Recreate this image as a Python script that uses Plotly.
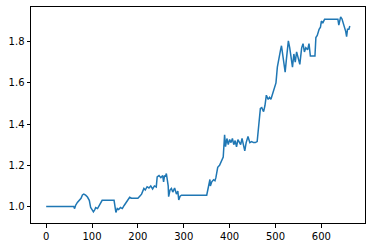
import plotly.graph_objects as go

# vertices of the line (x index, value)
x_pts = [0, 60, 62, 64, 68, 72, 76, 79, 82, 86, 90, 94, 97, 100, 103, 106, 108, 112, 117, 120, 122,
         148, 150, 152, 155, 158, 162, 166, 170, 174, 178, 182, 186, 200, 204, 208, 213, 216, 220,
         224, 228, 232, 236, 240, 242, 246, 250, 254, 256, 258, 260, 262, 264, 266, 267, 270, 273,
         276, 280, 284, 287, 289, 292, 295, 350, 353, 357, 358, 361, 365, 368, 370, 374, 378, 382,
         386, 389, 391, 394, 397, 400, 403, 406, 409, 412, 415, 418, 421, 424, 427, 430, 433, 436,
         440, 444, 448, 452, 456, 460, 464, 467, 470, 474, 477, 480, 484, 487, 490, 494, 498, 501,
         504, 507, 509, 511, 513, 515, 518, 521, 524, 528, 531, 534, 537, 540, 543, 546, 550, 553,
         557, 560, 563, 566, 570, 573, 576, 580, 586, 588, 591, 595, 598, 600, 603, 607, 615, 625,
         636, 638, 640, 642, 645, 648, 651, 653, 655, 657, 660, 662]
y_pts = [1.0, 1.0, 0.99, 1.005, 1.02, 1.03, 1.04, 1.056, 1.06, 1.055, 1.046, 1.03, 0.995, 0.985, 0.974, 0.985, 0.995, 0.99, 1.008, 1.02, 1.03,
         1.03, 0.99, 0.971, 0.99, 0.985, 0.995, 0.99, 1.005, 1.02, 1.035, 1.045, 1.04, 1.04, 1.05, 1.06, 1.088, 1.08, 1.096,
         1.09, 1.1, 1.085, 1.1, 1.095, 1.144, 1.15, 1.14, 1.15, 1.12, 1.15, 1.145, 1.16, 1.13, 1.1, 1.048, 1.08, 1.088,
         1.07, 1.09, 1.06, 1.075, 1.032, 1.05, 1.055, 1.055, 1.09, 1.131, 1.10, 1.12, 1.13, 1.125, 1.14, 1.19, 1.2, 1.224,
         1.24, 1.348, 1.29, 1.33, 1.3, 1.325, 1.31, 1.33, 1.3, 1.32, 1.29, 1.325, 1.31, 1.3, 1.33, 1.295, 1.27, 1.31,
         1.34, 1.31, 1.315, 1.31, 1.31, 1.315, 1.404, 1.476, 1.48, 1.46, 1.49, 1.54, 1.52, 1.53, 1.52, 1.55, 1.572, 1.6,
         1.676, 1.72, 1.74, 1.76, 1.78, 1.75, 1.7, 1.652, 1.72, 1.804, 1.77, 1.72, 1.676, 1.74, 1.7, 1.75, 1.72, 1.69,
         1.77, 1.79, 1.75, 1.77, 1.76, 1.79, 1.73, 1.73, 1.73, 1.82, 1.83, 1.86, 1.87, 1.90, 1.89, 1.909, 1.909, 1.909,
         1.909, 1.88, 1.9, 1.92, 1.91, 1.89, 1.87, 1.85, 1.824, 1.86, 1.86, 1.876]

x_ticks = [0, 100, 200, 300, 400, 500, 600]
y_ticks = [1.0, 1.2, 1.4, 1.6, 1.8]

fig = go.Figure()
fig.add_trace(go.Scatter(x=x_pts, y=y_pts, mode="lines",
                         line=dict(color="#1f77b4", width=1.5), showlegend=False))

axis_common = dict(showline=True, mirror=True, linecolor="black", linewidth=1,
                   ticks="outside", ticklen=3.5, tickwidth=1, tickcolor="black",
                   showgrid=False, zeroline=False,
                   tickfont=dict(family="DejaVu Sans", size=10, color="black"))

fig.update_layout(
    width=372, height=248,
    margin=dict(l=31, r=7, t=6, b=24),
    paper_bgcolor="white", plot_bgcolor="white",
    xaxis=dict(range=[-33.1, 695.1], tickvals=x_ticks, **axis_common),
    yaxis=dict(range=[0.920, 1.968], tickvals=y_ticks, tickformat=".1f", **axis_common),
)

fig.write_html("out.html")
